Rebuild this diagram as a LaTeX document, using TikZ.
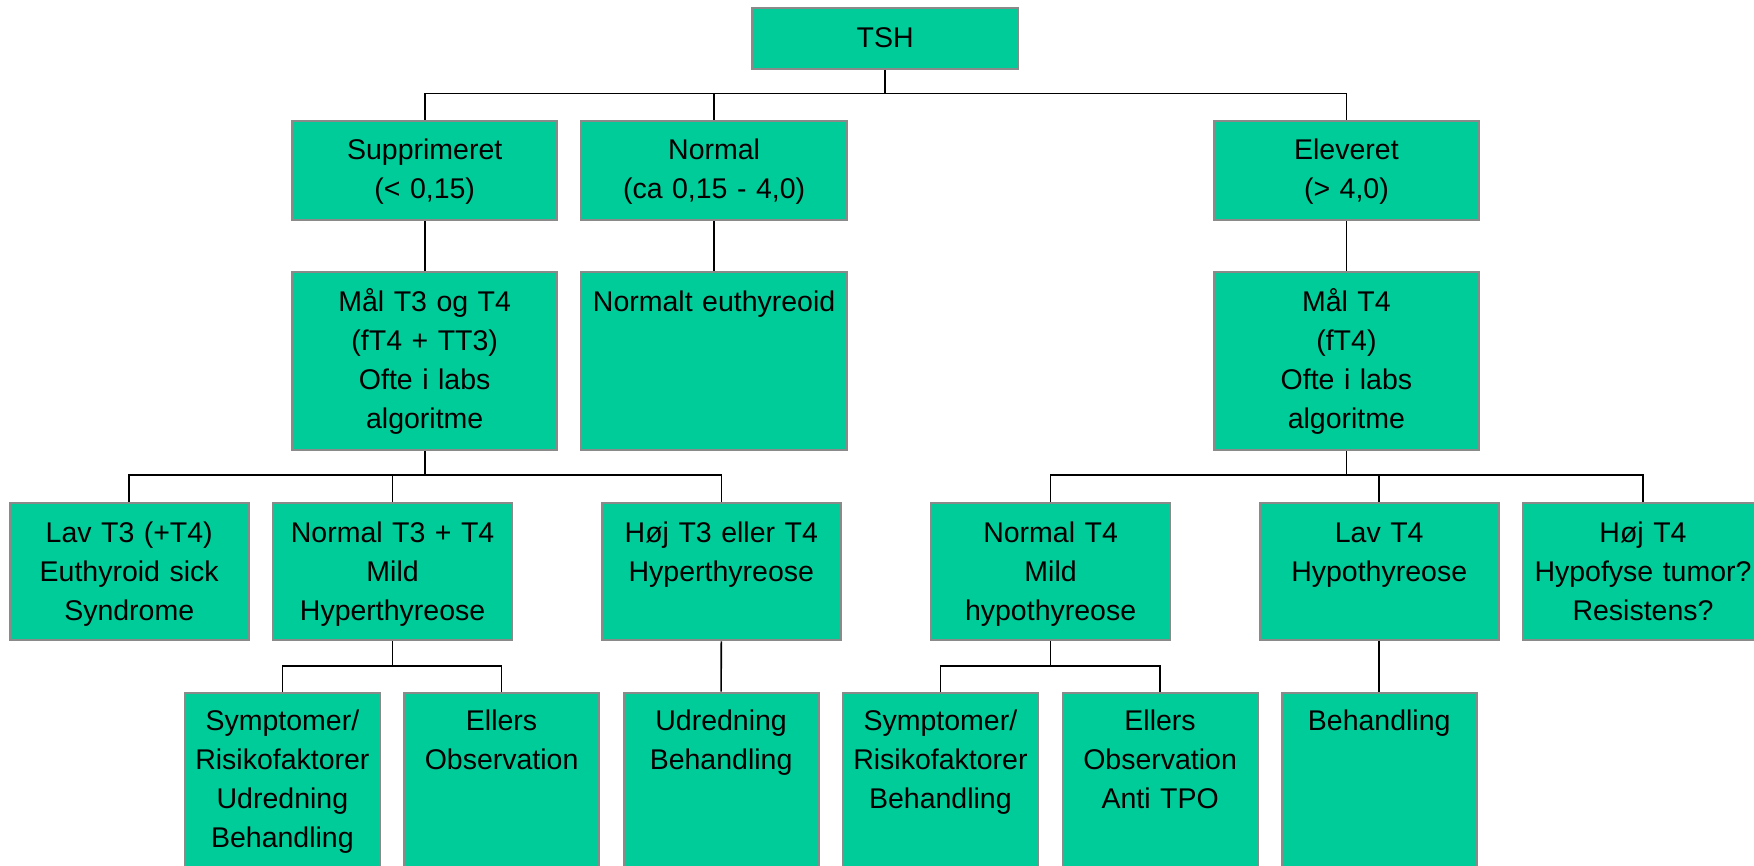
\documentclass[tikz,border=0pt]{standalone}
\usepackage{fontspec}
\setmainfont{Liberation Sans}
\definecolor{boxfill}{HTML}{00CC99}
\definecolor{boxline}{HTML}{8A8A8A}
\tikzset{
  box/.style={draw=boxline, line width=2pt, fill=boxfill, rectangle, inner sep=0pt, anchor=north},
  wA/.style={minimum width=265.4pt},
  wB/.style={minimum width=239.3pt},
  wC/.style={minimum width=195pt},
  lbl/.style={anchor=base, inner sep=0pt, align=center, font=\fontsize{28.5}{39}\selectfont},
  conn/.style={draw=black, line width=1.6pt}
}
\begin{document}
\begin{tikzpicture}[x=1pt,y=-1pt]
\useasboundingbox (0,0) rectangle (1754,865);
\clip (0,0) rectangle (1754,865);
% level 0
\node[box, minimum width=265.5pt, minimum height=61.5pt] (tsh) at (885.2,6.5) {};
% level 1
\node[box, wA, minimum height=99.6pt] (sup) at (424.7,119.7) {};
\node[box, wA, minimum height=99.6pt] (nor) at (714.1,119.7) {};
\node[box, wA, minimum height=99.6pt] (ele) at (1346.4,119.7) {};
% level 2
\node[box, wA, minimum height=178pt] (maal3) at (424.7,271) {};
\node[box, wA, minimum height=178pt] (euth) at (714.1,271) {};
\node[box, wA, minimum height=178pt] (maal4) at (1346.4,271) {};
% level 3
\node[box, wB, minimum height=137.8pt] (lav3) at (129.2,501.5) {};
\node[box, wB, minimum height=137.8pt] (nt3) at (392.6,501.5) {};
\node[box, wB, minimum height=137.8pt] (hoj3) at (721.3,501.5) {};
\node[box, wB, minimum height=137.8pt] (nt4) at (1050.6,501.5) {};
\node[box, wB, minimum height=137.8pt] (lav4) at (1379.2,501.5) {};
\node[box, wB, minimum height=137.8pt] (hoj4) at (1643,501.5) {};
% level 4
\node[box, wC, minimum height=200pt] (sym1) at (282.4,691.7) {};
\node[box, wC, minimum height=200pt] (ell1) at (501.6,691.7) {};
\node[box, wC, minimum height=200pt] (udr) at (721.1,691.7) {};
\node[box, wC, minimum height=200pt] (sym2) at (940.4,691.7) {};
\node[box, wC, minimum height=200pt] (ell2) at (1160.1,691.7) {};
\node[box, wC, minimum height=200pt] (beh) at (1379.2,691.7) {};
% labels
\node[lbl, text width=265pt] (tsh-t) at ([yshift=-40.5pt]tsh.north) {TSH};
\node[lbl, text width=265pt] (sup-t) at ([yshift=-39.5pt]sup.north) {Supprimeret\\(< 0,15)};
\node[lbl, text width=265pt] (nor-t) at ([yshift=-39.5pt]nor.north) {Normal\\(ca 0,15 - 4,0)};
\node[lbl, text width=265pt] (ele-t) at ([yshift=-39.5pt]ele.north) {Eleveret\\(> 4,0)};
\node[lbl, text width=265pt] (maal3-t) at ([yshift=-40.5pt]maal3.north) {Mål T3 og T4\\(fT4 + TT3)\\Ofte i labs\\algoritme};
\node[lbl, text width=265pt] (euth-t) at ([yshift=-40.5pt]euth.north) {Normalt euthyreoid};
\node[lbl, text width=265pt] (maal4-t) at ([yshift=-40.5pt]maal4.north) {Mål T4\\(fT4)\\Ofte i labs\\algoritme};
\node[lbl, text width=239pt] (lav3-t) at ([yshift=-40.5pt]lav3.north) {Lav T3 (+T4)\\Euthyroid sick\\Syndrome};
\node[lbl, text width=239pt] (nt3-t) at ([yshift=-40.5pt]nt3.north) {Normal T3 + T4\\Mild\\Hyperthyreose};
\node[lbl, text width=239pt] (hoj3-t) at ([yshift=-40.5pt]hoj3.north) {Høj T3 eller T4\\Hyperthyreose};
\node[lbl, text width=239pt] (nt4-t) at ([yshift=-40.5pt]nt4.north) {Normal T4\\Mild\\hypothyreose};
\node[lbl, text width=239pt] (lav4-t) at ([yshift=-40.5pt]lav4.north) {Lav T4\\Hypothyreose};
\node[lbl, text width=239pt] (hoj4-t) at ([yshift=-40.5pt]hoj4.north) {Høj T4\\Hypofyse tumor?\\Resistens?};
\node[lbl, text width=195pt] (sym1-t) at ([yshift=-39pt]sym1.north) {Symptomer/\\Risikofaktorer\\Udredning\\Behandling};
\node[lbl, text width=195pt] (ell1-t) at ([yshift=-39pt]ell1.north) {Ellers\\Observation};
\node[lbl, text width=195pt] (udr-t) at ([yshift=-39pt]udr.north) {Udredning\\Behandling};
\node[lbl, text width=195pt] (sym2-t) at ([yshift=-39pt]sym2.north) {Symptomer/\\Risikofaktorer\\Behandling};
\node[lbl, text width=195pt] (ell2-t) at ([yshift=-39pt]ell2.north) {Ellers\\Observation\\Anti TPO};
\node[lbl, text width=195pt] (beh-t) at ([yshift=-39pt]beh.north) {Behandling};
% bar levels
\coordinate (b0) at (0,93.3);
\coordinate (b1) at (0,475);
\coordinate (b2) at (0,665.7);
% connectors
\draw[conn] (tsh.south) -- (tsh.south |- b0);
\draw[conn] (sup.north) |- (ele.north |- b0) -- (ele.north);
\draw[conn] (nor.north) -- (nor.north |- b0);
\draw[conn] (sup.south) -- (maal3.north);
\draw[conn] (nor.south) -- (euth.north);
\draw[conn] (ele.south) -- (maal4.north);
\draw[conn] (maal3.south) -- (maal3.south |- b1);
\draw[conn] (lav3.north) |- (hoj3.north |- b1) -- (hoj3.north);
\draw[conn] (nt3.north) -- (nt3.north |- b1);
\draw[conn] (maal4.south) -- (maal4.south |- b1);
\draw[conn] (nt4.north) |- (hoj4.north |- b1) -- (hoj4.north);
\draw[conn] (lav4.north) -- (lav4.north |- b1);
\draw[conn] (nt3.south) -- (nt3.south |- b2);
\draw[conn] (sym1.north) |- (ell1.north |- b2) -- (ell1.north);
\draw[conn] (hoj3.south) -- (udr.north);
\draw[conn] (nt4.south) -- (nt4.south |- b2);
\draw[conn] (sym2.north) |- (ell2.north |- b2) -- (ell2.north);
\draw[conn] (lav4.south) -- (beh.north);
\end{tikzpicture}
\end{document}
